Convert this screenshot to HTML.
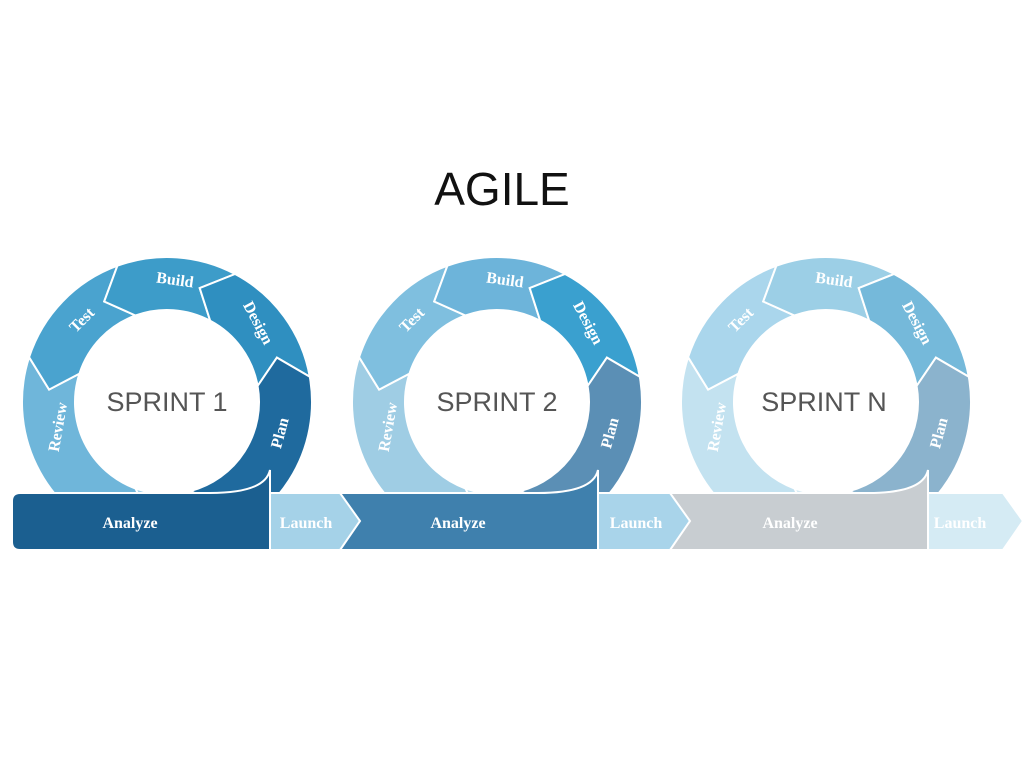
<!DOCTYPE html>
<html><head><style>
body{margin:0;background:#fff;width:1024px;height:768px;overflow:hidden}
svg{display:block}
.c{font-family:"Liberation Sans",sans-serif;font-size:27px;fill:#555;text-anchor:middle}
</style></head><body>
<svg id="s" width="1024" height="768" viewBox="0 0 1024 768">
<g id="g"></g>
<text x="502" y="205" font-family="Liberation Sans,sans-serif" font-size="46" fill="#111" text-anchor="middle">AGILE</text>
<g id="t">
<text class="c" x="167" y="411">SPRINT 1</text>
<text class="c" x="497" y="411">SPRINT 2</text>
<text class="c" x="824" y="411">SPRINT N</text>
</g>
</svg>
<script>
var NS="http://www.w3.org/2000/svg",g=document.getElementById('g');
function P(cx,cy,a,r){a=a*Math.PI/180;return (cx+r*Math.sin(a)).toFixed(1)+","+(cy-r*Math.cos(a)).toFixed(1);}
function add(d,f){var p=document.createElementNS(NS,'path');p.setAttribute('d',d);p.setAttribute('fill',f);p.setAttribute('stroke','#fff');p.setAttribute('stroke-width','2');g.appendChild(p);}
function seg(cx,cy,a0,a1,f,tip){var ro=145,ri=92,rm=118.5;tip=tip||12;
add("M"+P(cx,cy,a0,ro)+" A"+ro+" "+ro+" 0 0 1 "+P(cx,cy,a1,ro)+" L"+P(cx,cy,a1-tip,rm)+" L"+P(cx,cy,a1,ri)+" A"+ri+" "+ri+" 0 0 0 "+P(cx,cy,a0,ri)+" L"+P(cx,cy,a0-tip,rm)+"Z",f);}
var S=[[167,[ "#6fb6da","#4aa3cf","#3d9cc9","#2f8fc0","#1f6a9e","#9fd0e8"],"#1b5f90","#a5d2e8",12],
[497,["#9fcde4","#7fbfdf","#6db4da","#3aa0cf","#5b8fb5","#b8dcee"],"#3f80ad","#a9d4ea",340],
[826,["#c3e2f0","#aad6ec","#9ccfe6","#75b9da","#8bb3cd","#d5ebf4"],"#c8cdd1","#d5ebf4",670]];
S.forEach(function(s,i){var cx=s[0],cy=402,c=s[1];
seg(cx,cy,165,205,c[5]);
seg(cx,cy,-160,-72,c[0]);seg(cx,cy,-72,-20,c[1]);seg(cx,cy,-20,28,c[2]);seg(cx,cy,28,80,c[3]);seg(cx,cy,80,165,c[4]);
var x=s[4],e=x+258;
add("M"+(e-5)+",493 L"+(e+75)+",493 L"+(e+95)+",521 L"+(e+75)+",550 L"+(e-5)+",550Z",s[3]);
if(i==0)add("M"+(x+8)+",493 L"+(e-60)+",493 Q"+(e-5)+",493 "+(e)+",470 L"+e+",550 L"+(x+8)+",550 Q"+x+",550 "+x+",542 L"+x+",501 Q"+x+",493 "+(x+8)+",493Z",s[2]);
else add("M"+x+",493 L"+(e-60)+",493 Q"+(e-5)+",493 "+e+",470 L"+e+",550 L"+x+",550 L"+(x+20)+",521Z",s[2]);
});
</script>
<svg width="1024" height="768" style="position:absolute;left:0;top:0">
<g font-family="Liberation Serif,serif" font-weight="bold" font-size="16" fill="#fff" text-anchor="middle">
<text x="175" y="285" transform="rotate(8 175 280)">Build</text>
<text x="82" y="325" transform="rotate(-45 82 320)">Test</text>
<text x="258" y="328" transform="rotate(62 258 323)">Design</text>
<text x="280" y="438" transform="rotate(-75 280 433)">Plan</text>
<text x="58" y="432" transform="rotate(-80 58 427)">Review</text>
<text x="130" y="528">Analyze</text>
<text x="306" y="528">Launch</text>
<text x="505" y="285" transform="rotate(8 505 280)">Build</text>
<text x="412" y="325" transform="rotate(-45 412 320)">Test</text>
<text x="588" y="328" transform="rotate(62 588 323)">Design</text>
<text x="610" y="438" transform="rotate(-75 610 433)">Plan</text>
<text x="388" y="432" transform="rotate(-80 388 427)">Review</text>
<text x="458" y="528">Analyze</text>
<text x="636" y="528">Launch</text>
<text x="834" y="285" transform="rotate(8 834 280)">Build</text>
<text x="741" y="325" transform="rotate(-45 741 320)">Test</text>
<text x="917" y="328" transform="rotate(62 917 323)">Design</text>
<text x="939" y="438" transform="rotate(-75 939 433)">Plan</text>
<text x="717" y="432" transform="rotate(-80 717 427)">Review</text>
<text x="790" y="528">Analyze</text>
<text x="960" y="528">Launch</text>
</g></svg>
</body></html>
